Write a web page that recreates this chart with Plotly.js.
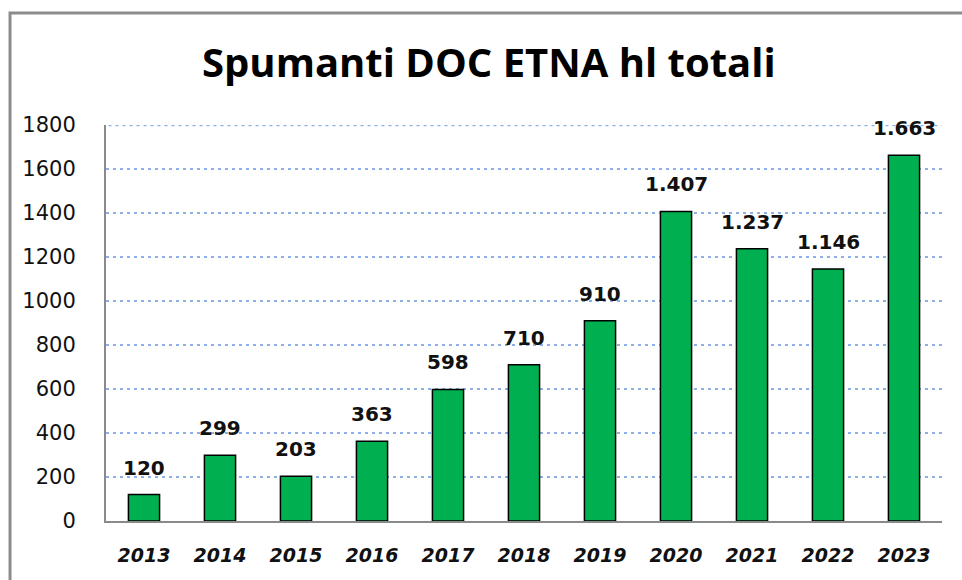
<!DOCTYPE html>
<html>
<head>
<meta charset="utf-8">
<script src="https://cdn.plot.ly/plotly-3.0.1.min.js"></script>
<style>
  html, body { margin: 0; padding: 0; background: #ffffff; }
  #chart { width: 962px; height: 580px; }
</style>
</head>
<body>
<div id="chart"></div>
<script>
const years = [2013, 2014, 2015, 2016, 2017, 2018, 2019, 2020, 2021, 2022, 2023];
const hlTotali = [120, 299, 203, 363, 598, 710, 910, 1407, 1237, 1146, 1663];
const yTicks = [0, 200, 400, 600, 800, 1000, 1200, 1400, 1600, 1800];
const chartTitle = 'Spumanti DOC ETNA hl totali';

function fmtIt(v) {
  return String(v).replace(/\B(?=(\d{3})+(?!\d))/g, '.');
}

const gridColor = '#8eaee6';
const gridDash = '3px,4px';

const trace = {
  type: 'bar',
  x: years,
  y: hlTotali,
  width: 0.41,
  marker: { color: '#00b050', line: { color: '#000000', width: 1.5 } },
  hoverinfo: 'x+y'
};

const annotations = years.map((yr, i) => ({
  x: yr, y: hlTotali[i], xref: 'x', yref: 'y',
  text: fmtIt(hlTotali[i]),
  showarrow: false, yanchor: 'bottom', yshift: 13,
  font: { family: 'DejaVu Sans', size: 20, color: '#111111', weight: 'bold' }
}));

annotations.push({
  xref: 'paper', yref: 'paper', x: 0.458, y: 1.16,
  xanchor: 'center', yanchor: 'middle', showarrow: false,
  text: '<b>' + chartTitle + '</b>',
  font: { family: 'Open Sans', size: 40, color: '#000000' }
});

const layout = {
  width: 962, height: 580,
  margin: { l: 106, r: 20, t: 125, b: 59 },
  paper_bgcolor: '#ffffff', plot_bgcolor: '#ffffff',
  showlegend: false,
  xaxis: {
    type: 'linear', range: [years[0] - 0.5, years[years.length - 1] + 0.5],
    tickvals: years, ticktext: years.map(String),
    showgrid: false, zeroline: false,
    showline: true, linecolor: '#8a8a8a', linewidth: 2,
    ticks: '', ticklabelstandoff: 16,
    tickfont: { family: 'DejaVu Sans', size: 19, color: '#111111', weight: 'bold', style: 'italic' }
  },
  yaxis: {
    range: [0, 1800], tickvals: yTicks, ticktext: yTicks.map(String),
    showgrid: true, gridcolor: gridColor, gridwidth: 2.5, griddash: gridDash,
    zeroline: false,
    showline: true, linecolor: '#8a8a8a', linewidth: 2,
    ticks: '', ticklabelstandoff: 24,
    tickfont: { family: 'DejaVu Sans', size: 21, color: '#111111' }
  },
  annotations: annotations,
  shapes: [
    {
      type: 'rect', xref: 'paper', yref: 'paper',
      x0: -0.1148, x1: 1.05, y0: -0.2, y1: 1.2828,
      line: { color: '#8c8c8c', width: 3 }, fillcolor: 'rgba(0,0,0,0)', layer: 'below'
    },
    {
      type: 'line', xref: 'paper', yref: 'y',
      x0: 0.003, x1: 1, y0: yTicks[yTicks.length - 1], y1: yTicks[yTicks.length - 1],
      line: { color: gridColor, width: 2.5, dash: gridDash }, layer: 'below'
    }
  ]
};

Plotly.newPlot('chart', [trace], layout, { displayModeBar: false, staticPlot: true });
</script>
</body>
</html>
